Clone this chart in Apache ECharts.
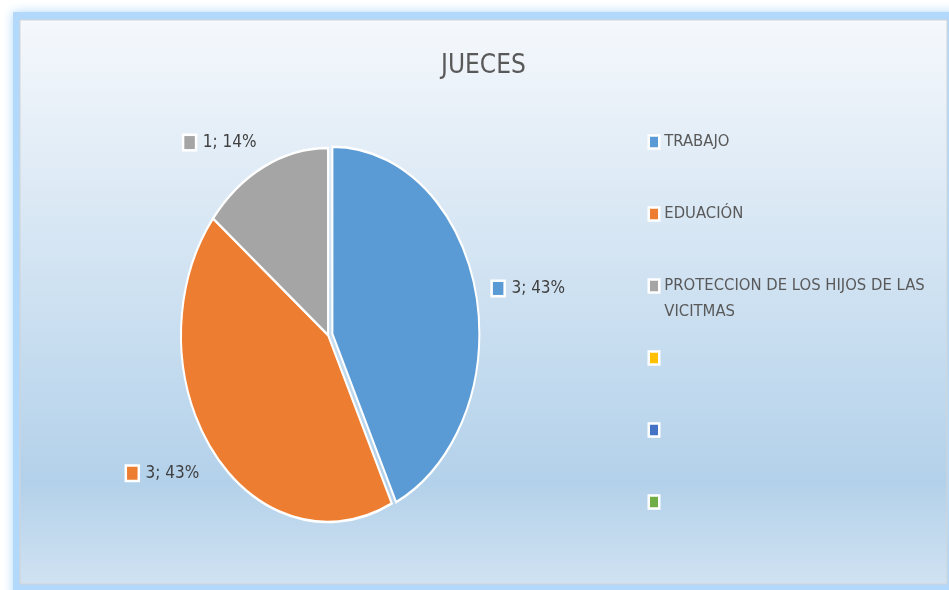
<!DOCTYPE html>
<html>
<head>
<meta charset="utf-8">
<script src="https://cdn.jsdelivr.net/npm/echarts@6/dist/echarts.min.js"></script>
<style>html,body{margin:0;padding:0;background:#fff}#main{width:949px;height:590px}</style>
</head>
<body>
<div id="main"></div>
<script>
var categories = ['TRABAJO', 'EDUACIÓN', 'PROTECCION DE LOS HIJOS DE LAS VICITMAS', '', '', ''];
var legendLabels = ['TRABAJO', 'EDUACIÓN', 'PROTECCION DE LOS HIJOS DE LAS\nVICITMAS', '', '', ''];
var values = [3, 3, 1, null, null, null];
var colors = ['#5b9bd5', '#ed7d31', '#a5a5a5', '#ffc000', '#4472c4', '#70ad47'];
var exploded = [4.5, 0, 0, 0, 0, 0];

var FONT = "'DejaVu Sans Condensed', 'Liberation Sans Narrow', sans-serif";
var myChart = echarts.init(document.getElementById('main'));

var total = values.reduce(function (s, v) { return s + (v || 0); }, 0);
var keys = categories.map(function (c, i) { return 'serie' + i; });

// the source picture is stretched vertically, so the pie is an ellipse
var CX = 328, CY = 335, RX = 147, RY = 187;

function renderSlice(params, api) {
  var i = params.seriesIndex;
  var v = values[i];
  if (!v) return;
  var before = 0;
  for (var k = 0; k < i; k++) before += values[k] || 0;
  var start = -Math.PI / 2 + before / total * Math.PI * 2;
  var end = start + v / total * Math.PI * 2;
  var mid = (start + end) / 2;
  var cos = Math.cos(mid), sin = Math.sin(mid);
  var ox = exploded[i] * cos, oy = exploded[i] * sin * RY / RX;
  // labels sit just outside the rim
  var lx = CX + ox + RX * 1.12 * cos, ly = CY + oy + RY * 1.16 * sin + 3;
  var pct = Math.round(v / total * 100) + '%';
  return {
    type: 'group',
    children: [{
      type: 'sector',
      shape: { cx: CX, cy: CY, r0: 0, r: RX, startAngle: start, endAngle: end, clockwise: true },
      x: ox, y: oy, originX: CX, originY: CY, scaleY: RY / RX,
      style: { fill: colors[i], stroke: '#fff', lineWidth: 2, strokeNoScale: true }
    }, {
      type: 'text',
      x: lx, y: ly,
      style: {
        text: '{m|}{t|' + v + '; ' + pct + '}',
        align: cos >= 0 ? 'left' : 'right',
        verticalAlign: 'middle',
        rich: {
          m: { width: 10.5, height: 13, backgroundColor: colors[i], borderColor: '#fff', borderWidth: 2.5 },
          t: { fontFamily: FONT, fontSize: 17, fill: '#404040', padding: [0, 0, 0, 8] }
        }
      }
    }]
  };
}

var option = {
  animation: false,
  title: {
    text: 'JUECES',
    left: 441,
    top: 53,
    padding: 0,
    textStyle: { fontFamily: FONT, fontSize: 26, fontWeight: 'normal', color: '#595959' }
  },
  legend: {
    orient: 'vertical',
    left: 647.5,
    top: 103,
    padding: 0,
    icon: 'rect',
    itemWidth: 10.5,
    itemHeight: 13,
    itemGap: -6,
    selectedMode: false,
    data: keys,
    itemStyle: { borderColor: '#fff', borderWidth: 2.5 },
    formatter: function (name) {
      var lab = legendLabels[keys.indexOf(name)];
      return '\n' + lab + (lab.split('\n').length < 2 ? '\n' : '');
    },
    textStyle: { fontFamily: FONT, fontSize: 16.5, color: '#595959', lineHeight: 26 }
  },
  graphic: [{
    type: 'rect', silent: true, z: -10,
    shape: { x: 13, y: 12, width: 945, height: 590 },
    style: { fill: '#b2d8fb', shadowBlur: 10, shadowColor: '#b2d8fb' }
  }, {
    type: 'rect', silent: true, z: -9,
    shape: { x: 20, y: 20, width: 927, height: 564 },
    style: {
      fill: new echarts.graphic.LinearGradient(0, 0, 0, 1, [
        { offset: 0, color: '#f5f8fc' },
        { offset: 0.82, color: '#b3d1ea' },
        { offset: 1, color: '#d0e2f2' }
      ]),
      stroke: '#d4d4d4', lineWidth: 1
    }
  }],
  series: keys.map(function (key, i) {
    return {
      type: 'custom',
      name: key,
      coordinateSystem: 'none',
      itemStyle: { color: colors[i] },
      renderItem: renderSlice,
      data: values[i] ? [[values[i]]] : []
    };
  })
};
myChart.setOption(option);
</script>
</body>
</html>
